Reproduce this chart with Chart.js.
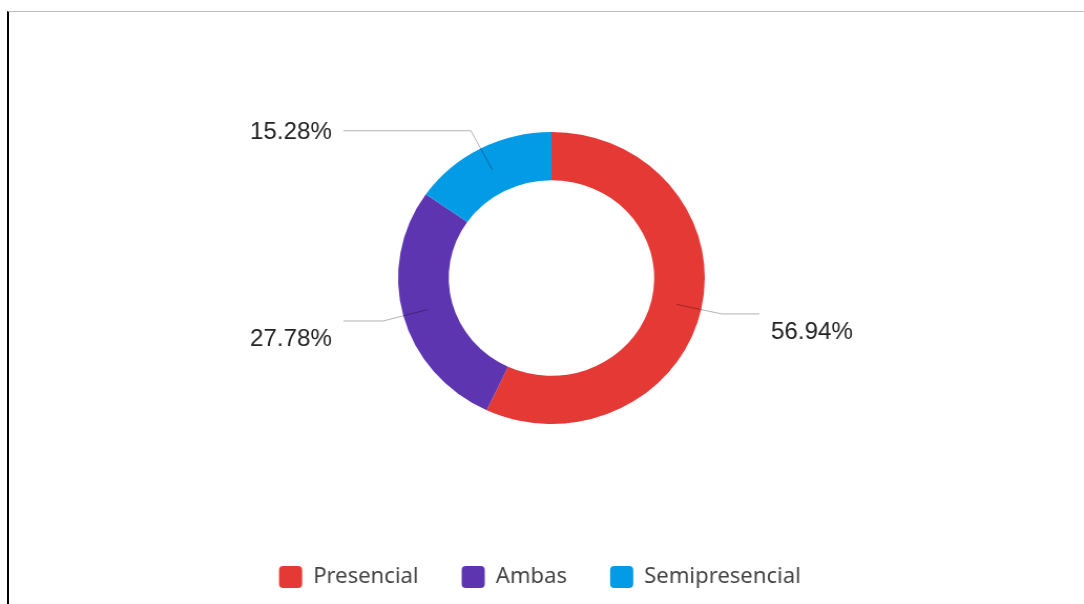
<!DOCTYPE html>
<html lang="es">
<head>
    <meta charset="UTF-8">
    <title>Modalidad</title>
    <script src="https://cdn.jsdelivr.net/npm/chart.js"></script>
    <style>
        html, body { margin: 0; padding: 0; background: #fff; }
        .frame {
            position: absolute;
            left: 7px; top: 11px; right: 0; bottom: 0;
            border-top: 1px solid #bdbdbd;
            border-left: 2px solid #000;
        }
        #modalidad {
            position: absolute;
            left: 0; top: 0;
            width: 1084px; height: 604px;
        }
    </style>
</head>
<body>
    <div class="frame"></div>
    <canvas id="modalidad" width="1032" height="604" style="width:1084px;height:604px"></canvas>

    <script>
        // datos
        const categorias = ['Presencial', 'Ambas', 'Semipresencial'];
        const porcentajes = [56.94, 27.78, 15.28];
        const colores = ['#e53935', '#5e35b1', '#039be5'];

        // etiquetas con linea guia fuera del anillo
        const etiquetasFuera = {
            id: 'etiquetasFuera',
            afterDatasetsDraw(chart) {
                const ctx = chart.ctx;
                const meta = chart.getDatasetMeta(0);
                ctx.save();
                ctx.font = '23px "Liberation Sans", Arial, sans-serif';
                ctx.fillStyle = '#222';
                ctx.textBaseline = 'middle';
                meta.data.forEach((arc, i) => {
                    const p = arc.getProps(['x', 'y', 'startAngle', 'endAngle', 'innerRadius', 'outerRadius'], true);
                    const a = (p.startAngle + p.endAngle) / 2;
                    const rm = (p.innerRadius + p.outerRadius) / 2;
                    const re = p.outerRadius + 20;
                    const x1 = p.x + Math.cos(a) * rm, y1 = p.y + Math.sin(a) * rm;
                    const x2 = p.x + Math.cos(a) * re, y2 = p.y + Math.sin(a) * re;
                    const derecha = Math.cos(a) > 0;
                    const x3 = derecha ? p.x + 198 : p.x - 198;
                    ctx.strokeStyle = 'rgba(0,0,0,0.3)';
                    ctx.lineWidth = 1;
                    ctx.beginPath();
                    ctx.moveTo(x1, y1);
                    ctx.lineTo(x2, y2);
                    ctx.lineTo(x3, y2);
                    ctx.stroke();
                    const ty = Math.sin(a) > 0 ? y2 + 19 : y2 + 2;
                    ctx.textAlign = derecha ? 'left' : 'right';
                    ctx.fillText(porcentajes[i].toFixed(2) + '%', derecha ? x3 + 11 : x3 - 11, ty);
                });
                ctx.restore();
            }
        };

        // mover la leyenda un poco a la izquierda como en el original
        const moverLeyenda = {
            id: 'moverLeyenda',
            afterLayout(chart) {
                chart.legend.left -= 11;
                chart.legend.right -= 11;
            }
        };

        new Chart(document.getElementById('modalidad'), {
            type: 'doughnut',
            data: {
                labels: categorias,
                datasets: [{
                    data: porcentajes,
                    backgroundColor: colores,
                    borderWidth: 0,
                    radius: 146,
                    cutout: '67%'
                }]
            },
            options: {
                responsive: false,
                devicePixelRatio: 1,
                animation: false,
                layout: { padding: { top: 31, bottom: 6, left: 18, right: 0 } },
                plugins: {
                    tooltip: { enabled: false },
                    legend: {
                        position: 'bottom',
                        labels: {
                            boxWidth: 22,
                            boxHeight: 22,
                            padding: 41,
                            color: '#444',
                            font: { family: '"Noto Sans", sans-serif', size: 21 },
                            generateLabels(chart) {
                                return categorias.map((c, i) => ({
                                    text: c,
                                    fillStyle: colores[i],
                                    strokeStyle: colores[i],
                                    fontColor: '#444',
                                    lineWidth: 0,
                                    borderRadius: 4,
                                    hidden: false,
                                    index: i
                                }));
                            }
                        }
                    }
                }
            },
            plugins: [etiquetasFuera, moverLeyenda]
        });
    </script>
</body>
</html>
